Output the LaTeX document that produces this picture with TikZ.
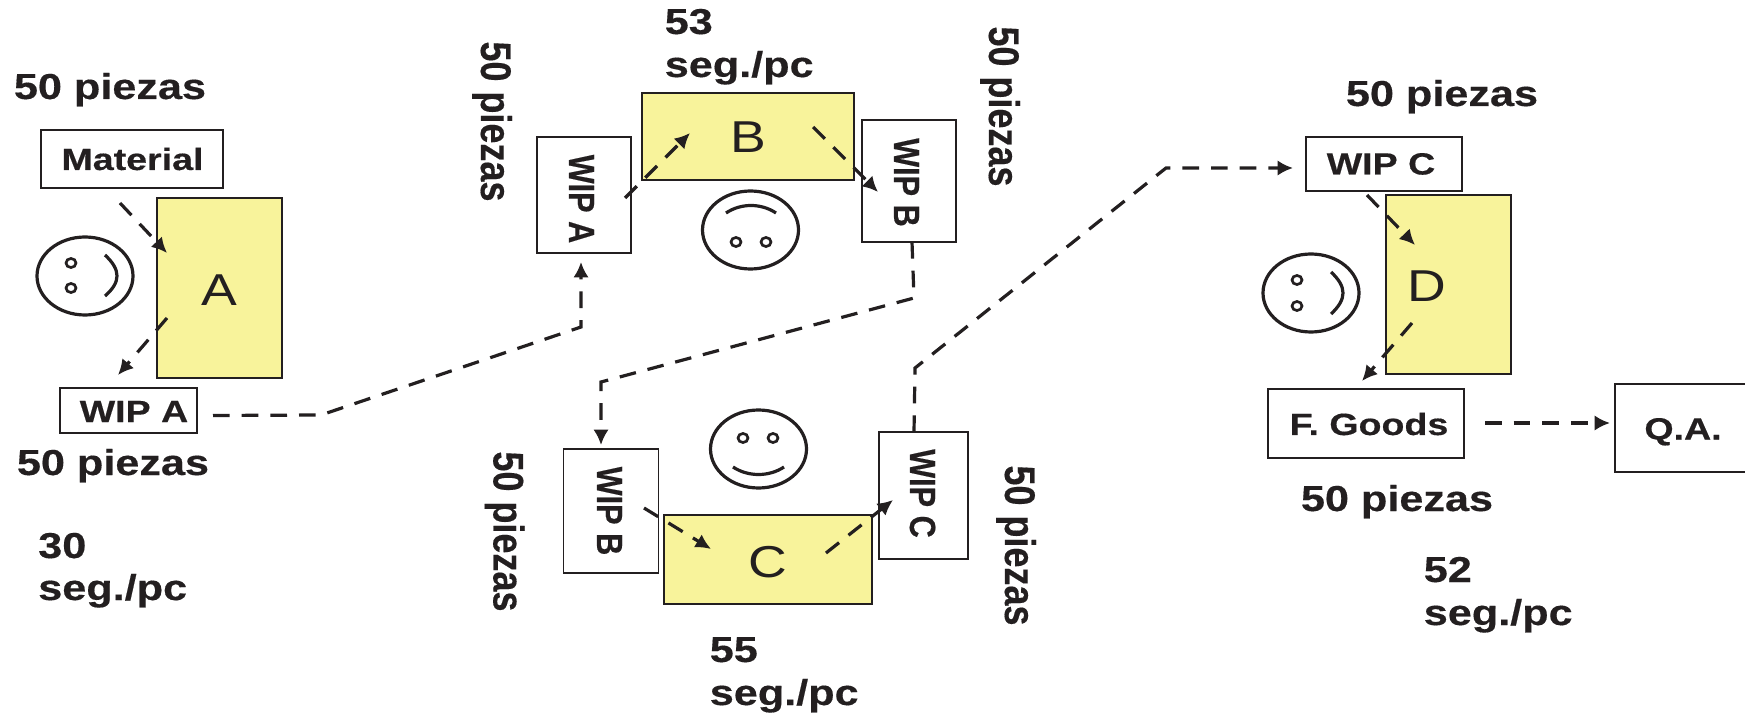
\documentclass[tikz,border=0pt]{standalone}
\usepackage{fontspec}
\usepackage{graphicx}
\setmainfont[BoldFeatures={FakeBold=0.35}]{Liberation Sans}
\usetikzlibrary{arrows.meta}
\definecolor{ink}{HTML}{231F20}
\definecolor{proc}{HTML}{F8F39B}
\newcommand{\hs}[1]{\scalebox{1.2}[1]{#1}}
\newcommand{\hb}[1]{\scalebox{1.225}[1]{#1}}
\newcommand{\vs}[1]{\scalebox{1}[1.19]{#1}}
\tikzset{
  x=0.75pt,y=-0.75pt,
  boxnode/.style={draw=ink,fill=white,line width=1.4pt,inner sep=0pt,outer sep=0pt,anchor=center},
  procnode/.style={boxnode,fill=proc},
  biglabel/.style={inner sep=0pt,text=ink,anchor=base,font=\fontsize{27}{30}\selectfont\bfseries},
  biglabelw/.style={biglabel,anchor=base west},
  boxlabel/.style={inner sep=0pt,text=ink,anchor=base,font=\fontsize{23}{26}\selectfont\bfseries},
  letterlabel/.style={inner sep=0pt,text=ink,anchor=base,font=\fontsize{33.5}{36}\selectfont},
  flow/.style={draw=ink,line width=2.4pt,dash pattern=on 12.5pt off 9pt,-{Latex[length=11.5pt,width=11.5pt]}},
  facepart/.style={draw=ink,line width=2.4pt},
  eye/.style={draw=ink,line width=2pt,fill=white}
}
\newcommand{\facehead}[2]{\draw[facepart] (#1,#2) ellipse [x radius=36pt,y radius=29.25pt];}
\newcommand{\faceeye}[2]{\draw[eye] (#1,#2) ellipse [x radius=3.75pt,y radius=3.4pt];}
\begin{document}
\begin{tikzpicture}
\useasboundingbox (0,0) rectangle (1745,716);
\fill[white] (0,0) rectangle (1745,716);

% process blocks
\node[procnode,minimum width=93.75pt,minimum height=135pt] (procA) at (219.5,288) {};
\node[procnode,minimum width=159pt,minimum height=65.25pt] (procB) at (748,136.5) {};
\node[procnode,minimum width=156pt,minimum height=66.75pt] (procC) at (768,559.5) {};
\node[procnode,minimum width=93.75pt,minimum height=134.25pt] (procD) at (1448.5,284.5) {};

% white boxes
\node[boxnode,minimum width=136.5pt,minimum height=43.5pt] (mat) at (132,159) {};
\node[boxnode,minimum width=102.75pt,minimum height=33.75pt] (wipA) at (128.5,410.5) {};
\node[boxnode,minimum width=70.5pt,minimum height=87pt] (wipAr) at (584,195) {};
\node[boxnode,minimum width=70.5pt,minimum height=91.5pt] (wipB) at (909,181) {};
\node[boxnode,minimum width=71.25pt,minimum height=93pt] (wipBl) at (611,511) {};
\node[boxnode,minimum width=66.75pt,minimum height=95.25pt] (wipCr) at (923.5,495.5) {};
\node[boxnode,minimum width=117pt,minimum height=40.5pt] (wipCt) at (1384,164) {};
\node[boxnode,minimum width=147pt,minimum height=51.75pt] (fg) at (1366,423.5) {};
\node[boxnode,minimum width=108.75pt,minimum height=66pt] (qa) at (1687.5,428) {};

% faces
\facehead{85}{276}\faceeye{71}{263}\faceeye{71}{288}
\draw[facepart] (105,255) .. controls (121,270) and (121,282) .. (105,296);
\facehead{750.5}{230}\faceeye{736}{242}\faceeye{766}{242}
\draw[facepart] (726,213) .. controls (741,203) and (761,203) .. (776,213);
\facehead{758.5}{449}\faceeye{743}{438}\faceeye{773}{438}
\draw[facepart] (733,467) .. controls (748,477) and (769,477) .. (784,467);
\facehead{1311}{293}\faceeye{1297}{280}\faceeye{1297}{306}
\draw[facepart] (1331,272) .. controls (1347,287) and (1347,299) .. (1331,314);

% connector bends
\coordinate (b1) at (321,415);
\coordinate (b2) at (581,327);
\coordinate (b3) at (914,298);
\coordinate (b4) at (601,382);
\coordinate (b5) at (915,368);
\coordinate (b6) at (1166,168);

% connectors
\draw[flow] ([shift={(-12,44)}]mat.center) -- ([shift={(-52.5,-35)}]procA.center);
\draw[flow] ([shift={(-52.5,30)}]procA.center) -- ([shift={(-10.5,-35.5)}]wipA.center);
\draw[flow] ([shift={(84.5,5)}]wipA.center) -- (b1) -- (b2) -- ([shift={(-3,67)}]wipAr.center);
\draw[flow] ([shift={(41,3)}]wipAr.center) -- ([shift={(-58,-3.5)}]procB.center);
\draw[flow] ([shift={(65,-9.5)}]procB.center) -- ([shift={(-31,11)}]wipB.center);
\draw[flow] ([shift={(3,61)}]wipB.center) -- (b3) -- (b4) -- ([shift={(-10,-66)}]wipBl.center);
\draw[flow] ([shift={(33,-3)}]wipBl.center) -- ([shift={(-57,-10.5)}]procC.center);
\draw[flow] ([shift={(58,-6.5)}]procC.center) -- ([shift={(-30.5,4.5)}]wipCr.center);
\draw[flow] ([shift={(-9.5,-63.5)}]wipCr.center) -- (b5) -- (b6) -- ([shift={(-91,4)}]wipCt.center);
\draw[flow] ([shift={(-17,31)}]wipCt.center) -- ([shift={(-33.5,-39.5)}]procD.center);
\draw[flow] ([shift={(-36.5,38.5)}]procD.center) -- ([shift={(-4,-42.5)}]fg.center);
\draw[flow] ([shift={(119,-0.5)}]fg.center) -- ([shift={(-77.5,-5)}]qa.center);

% letters in the blocks
\node[letterlabel] (tA) at (219,306) {\hs{A}};
\node[letterlabel] (tB) at (748.5,153) {\hs{B}};
\node[letterlabel] (tC) at (768,577) {\hs{C}};
\node[letterlabel] (tD) at (1427,302) {\hs{D}};

% box texts
\node[boxlabel] (tMat) at (132.5,170) {\hb{Material}};
\node[boxlabel] (tWipA) at (134,422) {\hb{WIP A}};
\node[boxlabel,rotate=-90] (tWipAr) at (569,199) {\vs{WIP A}};
\node[boxlabel,rotate=-90] (tWipB) at (894,182.5) {\vs{WIP B}};
\node[boxlabel,rotate=-90] (tWipBl) at (597,511) {\vs{WIP B}};
\node[boxlabel,rotate=-90] (tWipCr) at (910,493.5) {\vs{WIP C}};
\node[boxlabel] (tWipCt) at (1381,174.5) {\hb{WIP C}};
\node[boxlabel] (tFg) at (1369,435) {\hb{F. Goods}};
\node[boxlabel] (tQa) at (1683,439.5) {\hb{Q.A.}};

% quantity labels
\node[biglabel] (p1) at (110,99) {\hs{50 piezas}};
\node[biglabel] (p2) at (113,475) {\hs{50 piezas}};
\node[biglabel,rotate=-90] (p3) at (481,121.5) {\vs{50 piezas}};
\node[biglabel,rotate=-90] (p4) at (989,106.5) {\vs{50 piezas}};
\node[biglabel,rotate=-90] (p5) at (493.5,531.5) {\vs{50 piezas}};
\node[biglabel,rotate=-90] (p6) at (1005,545.5) {\vs{50 piezas}};
\node[biglabel] (p7) at (1442,106) {\hs{50 piezas}};
\node[biglabel] (p8) at (1397,511) {\hs{50 piezas}};

% cycle time labels
\node[biglabelw] (s1a) at (38,558) {\hs{30}};
\node[biglabelw] (s1b) at (38,600) {\hs{seg./pc}};
\node[biglabelw] (s2a) at (664.5,34) {\hs{53}};
\node[biglabelw] (s2b) at (664.5,77) {\hs{seg./pc}};
\node[biglabelw] (s3a) at (709.5,662) {\hs{55}};
\node[biglabelw] (s3b) at (709.5,705) {\hs{seg./pc}};
\node[biglabelw] (s4a) at (1423.5,582) {\hs{52}};
\node[biglabelw] (s4b) at (1423.5,625) {\hs{seg./pc}};
\end{tikzpicture}
\end{document}
